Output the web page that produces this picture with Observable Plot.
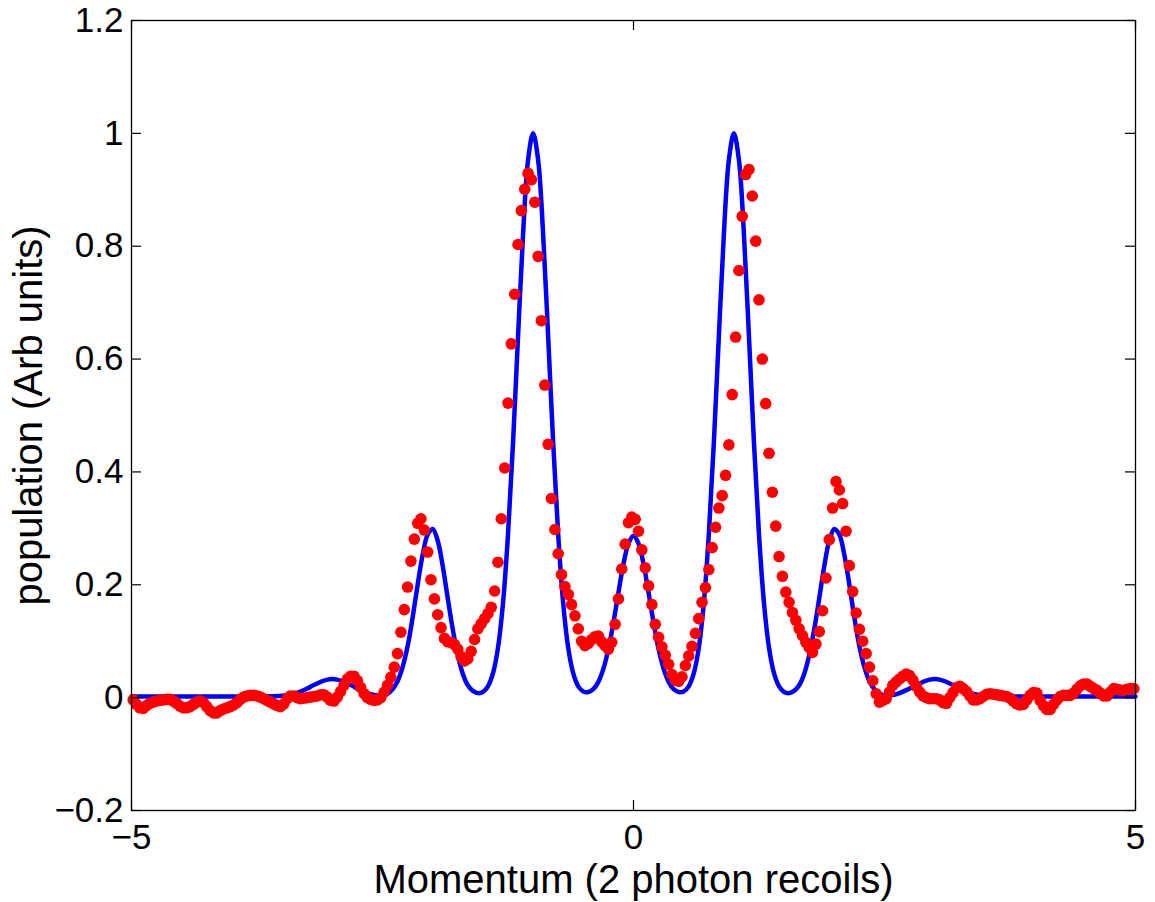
<!DOCTYPE html>
<html><head><meta charset="utf-8">
<script src="https://cdn.jsdelivr.net/npm/d3@7"></script>
<script src="https://cdn.jsdelivr.net/npm/@observablehq/plot@0.6"></script>
<style>html,body{margin:0;padding:0;background:#fff;} #chart svg{display:block;}</style>
</head><body><div id="chart"></div>
<script>
// Measured data (red dots)
const redX = [
-4.983,-4.95,-4.917,-4.883,-4.85,-4.817,-4.783,-4.75,-4.717,-4.683,-4.65,-4.617,-4.583,-4.55,-4.517,-4.483,-4.45,-4.417,-4.383,-4.35,-4.317,-4.283,-4.25,-4.217,-4.183,-4.15,-4.117,-4.083,-4.05,-4.017,
-3.983,-3.95,-3.917,-3.883,-3.85,-3.817,-3.783,-3.75,-3.717,-3.683,-3.65,-3.617,-3.583,-3.55,-3.517,-3.483,-3.45,-3.417,-3.383,-3.35,-3.317,-3.283,-3.25,-3.217,-3.183,-3.15,-3.117,-3.083,-3.05,-3.017,
-2.983,-2.95,-2.917,-2.883,-2.85,-2.817,-2.783,-2.75,-2.717,-2.683,-2.65,-2.617,-2.583,-2.55,-2.517,-2.483,-2.45,-2.417,-2.383,-2.35,-2.317,-2.283,-2.25,-2.217,-2.183,-2.15,-2.117,-2.083,-2.05,-2.017,
-1.983,-1.95,-1.917,-1.883,-1.85,-1.817,-1.783,-1.75,-1.717,-1.683,-1.65,-1.617,-1.583,-1.55,-1.517,-1.483,-1.45,-1.417,-1.383,-1.35,-1.317,-1.283,-1.25,-1.217,-1.183,-1.15,-1.117,-1.083,-1.05,-1.017,
-0.983,-0.95,-0.917,-0.883,-0.85,-0.817,-0.783,-0.75,-0.717,-0.683,-0.65,-0.617,-0.583,-0.55,-0.517,-0.483,-0.45,-0.417,-0.383,-0.35,-0.317,-0.283,-0.25,-0.217,-0.183,-0.15,-0.117,-0.083,-0.05,-0.017,
0.017,0.05,0.083,0.117,0.15,0.183,0.217,0.25,0.283,0.317,0.35,0.383,0.417,0.45,0.483,0.517,0.55,0.583,0.617,0.65,0.683,0.717,0.75,0.783,0.817,0.85,0.883,0.917,0.95,0.983,
1.017,1.05,1.083,1.117,1.15,1.183,1.217,1.25,1.283,1.317,1.35,1.383,1.417,1.45,1.483,1.517,1.55,1.583,1.617,1.65,1.683,1.717,1.75,1.783,1.817,1.85,1.883,1.917,1.95,1.983,
2.017,2.05,2.083,2.117,2.15,2.183,2.217,2.25,2.283,2.317,2.35,2.383,2.417,2.45,2.483,2.517,2.55,2.583,2.617,2.65,2.683,2.717,2.75,2.783,2.817,2.85,2.883,2.917,2.95,2.983,
3.017,3.05,3.083,3.117,3.15,3.183,3.217,3.25,3.283,3.317,3.35,3.383,3.417,3.45,3.483,3.517,3.55,3.583,3.617,3.65,3.683,3.717,3.75,3.783,3.817,3.85,3.883,3.917,3.95,3.983,
4.017,4.05,4.083,4.117,4.15,4.183,4.217,4.25,4.283,4.317,4.35,4.383,4.417,4.45,4.483,4.517,4.55,4.583,4.617,4.65,4.683,4.717,4.75,4.783,4.817,4.85,4.883,4.917,4.95,4.983
];
const redY = [
-0.004,-0.012,-0.018,-0.019,-0.014,-0.010,-0.008,-0.006,-0.005,-0.004,
-0.003,-0.003,-0.006,-0.010,-0.015,-0.018,-0.018,-0.016,-0.012,-0.008,
-0.006,-0.009,-0.016,-0.023,-0.027,-0.027,-0.023,-0.020,-0.018,-0.016,
-0.013,-0.009,-0.003,0.001,0.003,0.004,0.004,0.003,0.001,-0.002,
-0.005,-0.008,-0.011,-0.014,-0.016,-0.011,-0.002,0.003,0.003,0.000,
-0.002,-0.001,0.000,0.001,0.002,0.003,0.005,0.005,0.001,-0.005,
-0.006,0.001,0.011,0.022,0.033,0.038,0.038,0.030,0.018,0.007,
0.000,-0.003,-0.005,-0.004,0.000,0.010,0.022,0.036,0.054,0.078,
0.116,0.156,0.196,0.242,0.281,0.309,0.317,0.297,0.258,0.209,
0.175,0.147,0.124,0.105,0.099,0.098,0.094,0.086,0.073,0.065,
0.069,0.082,0.103,0.122,0.131,0.140,0.149,0.160,0.189,0.240,
0.317,0.407,0.522,0.627,0.715,0.803,0.863,0.901,0.929,0.918,
0.878,0.782,0.668,0.554,0.449,0.353,0.298,0.255,0.218,0.197,
0.183,0.165,0.145,0.122,0.100,0.092,0.096,0.103,0.108,0.109,
0.099,0.092,0.086,0.098,0.130,0.175,0.228,0.272,0.310,0.320,
0.316,0.295,0.262,0.230,0.198,0.165,0.130,0.107,0.090,0.075,
0.059,0.041,0.031,0.029,0.037,0.057,0.074,0.091,0.114,0.140,
0.169,0.195,0.227,0.266,0.302,0.336,0.358,0.394,0.448,0.537,
0.639,0.757,0.853,0.927,0.936,0.889,0.809,0.705,0.600,0.521,
0.433,0.364,0.304,0.250,0.215,0.187,0.169,0.151,0.137,0.122,
0.110,0.098,0.089,0.080,0.095,0.117,0.154,0.212,0.280,0.336,
0.383,0.368,0.344,0.295,0.234,0.188,0.150,0.121,0.100,0.078,
0.054,0.030,0.007,-0.008,-0.005,-0.002,0.010,0.022,0.028,0.033,
0.038,0.042,0.039,0.031,0.020,0.010,0.003,0.000,-0.002,-0.002,
-0.002,-0.004,-0.009,-0.010,0.000,0.009,0.018,0.020,0.016,0.011,
0.003,-0.004,-0.004,-0.002,0.002,0.006,0.007,0.006,0.005,0.004,
0.003,0.002,-0.001,-0.006,-0.011,-0.013,-0.012,-0.004,0.004,0.009,
0.008,-0.005,-0.014,-0.021,-0.021,-0.012,-0.004,0.002,0.004,0.004,
0.004,0.008,0.015,0.021,0.024,0.024,0.020,0.016,0.013,0.008,
0.003,0.003,0.010,0.016,0.015,0.013,0.013,0.015,0.016,0.016
];

// Theory curve (blue line)
const blueX = [
-5,-4.75,-4.5,-4.25,-4,-3.8,
-3.6,-3.55,-3.5,-3.45,-3.4,-3.35,-3.3,-3.25,-3.2,-3.15,-3.1,-3.05,
-3,-2.95,-2.9,-2.85,-2.8,-2.75,-2.7,-2.65,-2.6,-2.55,-2.5,-2.45,-2.4,-2.35,-2.3,-2.25,-2.2,-2.15,-2.1,-2.05,
-2,-1.95,-1.9,-1.85,-1.8,-1.75,-1.7,-1.65,-1.6,-1.55,-1.5,-1.45,-1.4,-1.35,-1.3,-1.25,-1.2,-1.15,-1.1,-1.05,
-1,-0.95,-0.9,-0.85,-0.8,-0.75,-0.7,-0.65,-0.6,-0.55,-0.5,-0.45,-0.4,-0.35,-0.3,-0.25,-0.2,-0.15,-0.1,-0.05,
0,0.05,0.1,0.15,0.2,0.25,0.3,0.35,0.4,0.45,0.5,0.55,0.6,0.65,0.7,0.75,0.8,0.85,0.9,0.95,
1,1.05,1.1,1.15,1.2,1.25,1.3,1.35,1.4,1.45,1.5,1.55,1.6,1.65,1.7,1.75,1.8,1.85,1.9,1.95,
2,2.05,2.1,2.15,2.2,2.25,2.3,2.35,2.4,2.45,2.5,2.55,2.6,2.65,2.7,2.75,2.8,2.85,2.9,2.95,
3,3.05,3.1,3.15,3.2,3.25,3.3,3.35,3.4,3.45,3.5,3.55,3.6,
3.8,4,4.25,4.5,4.75,5
];
const blueY = [
0.002,0.002,0.002,0.002,0.002,0.002,
0.0023,0.0027,0.0034,0.0045,0.006,0.009,0.012,0.016,0.021,0.025,0.029,0.032,
0.033,0.032,0.029,0.025,0.021,0.016,0.012,0.008,0.005,0.004,0.004,0.007,0.015,0.029,0.054,0.091,0.142,0.200,0.253,0.289,
0.299,0.278,0.233,0.176,0.121,0.075,0.042,0.022,0.012,0.008,0.010,0.020,0.043,0.088,0.167,0.289,0.451,0.640,0.821,0.953,
1.000,0.953,0.821,0.640,0.451,0.289,0.167,0.088,0.043,0.020,0.011,0.010,0.015,0.028,0.051,0.086,0.133,0.186,0.237,0.273,
0.287,0.273,0.237,0.186,0.133,0.086,0.051,0.028,0.015,0.010,0.011,0.020,0.043,0.088,0.167,0.289,0.451,0.640,0.821,0.953,
1.000,0.953,0.821,0.640,0.451,0.289,0.167,0.088,0.043,0.020,0.010,0.008,0.012,0.022,0.042,0.075,0.121,0.176,0.233,0.278,
0.299,0.289,0.253,0.200,0.142,0.091,0.054,0.029,0.015,0.007,0.004,0.004,0.005,0.008,0.012,0.016,0.021,0.025,0.029,0.032,
0.033,0.032,0.029,0.025,0.021,0.016,0.012,0.009,0.006,0.0045,0.0034,0.0027,0.0023,
0.002,0.002,0.002,0.002,0.002,0.002
];

const xTicks = [-5, 0, 5];
const xTickLabels = ["\u22125", "0", "5"];
const yTicks = [-0.2, 0, 0.2, 0.4, 0.6, 0.8, 1, 1.2];
const yTickLabels = ["\u22120.2", "0", "0.2", "0.4", "0.6", "0.8", "1", "1.2"];
const xLabel = "Momentum (2 photon recoils)";
const yLabel = "population (Arb units)";

const red = redX.map((x, i) => ({x, y: redY[i]}));
const blue = blueX.map((x, i) => ({x, y: blueY[i]}));
const font = "'Liberation Sans', Arial, Helvetica, sans-serif";

const W = 1155, H = 902, mL = 131, mR = 20, mT = 20, mB = 92;
const xDom = [-5, 5], yDom = [-0.2, 1.2];
const tickPx = 10;
const dxTick = tickPx * (xDom[1] - xDom[0]) / (W - mL - mR);
const dyTick = tickPx * (yDom[1] - yDom[0]) / (H - mT - mB);

const chart = Plot.plot({
  width: W, height: H,
  marginLeft: mL, marginRight: mR, marginTop: mT, marginBottom: mB,
  style: {fontFamily: font, background: "#fff", color: "#000"},
  x: {domain: xDom},
  y: {domain: yDom},
  marks: [
    Plot.line(blue, {x: "x", y: "y", stroke: "#0000ff", strokeWidth: 4.5, curve: "catmull-rom"}),
    Plot.dot(red, {x: "x", y: "y", r: 5.8, fill: "#ff0000"}),
    Plot.ruleY(yTicks, {y: d => d, x1: xDom[0], x2: xDom[0] + dxTick, stroke: "#000", strokeWidth: 1.2}),
    Plot.ruleY(yTicks, {y: d => d, x1: xDom[1] - dxTick, x2: xDom[1], stroke: "#000", strokeWidth: 1.2}),
    Plot.ruleX(xTicks, {x: d => d, y1: yDom[0], y2: yDom[0] + dyTick, stroke: "#000", strokeWidth: 1.2}),
    Plot.ruleX(xTicks, {x: d => d, y1: yDom[1] - dyTick, y2: yDom[1], stroke: "#000", strokeWidth: 1.2}),
    Plot.frame({stroke: "#000", strokeWidth: 1.3}),
    Plot.axisX(xTicks, {anchor: "bottom", tickSize: 0, tickPadding: 14, fontSize: 35, label: null,
      tickFormat: d => xTickLabels[xTicks.indexOf(d)]}),
    Plot.axisY(yTicks, {anchor: "left", tickSize: 0, tickPadding: 8, fontSize: 35, label: null,
      tickFormat: d => yTickLabels[yTicks.indexOf(d)]}),
    Plot.text([xLabel], {frameAnchor: "bottom", dy: 70, text: d => d, fontSize: 40, textAnchor: "middle", lineAnchor: "middle", fill: "#000"}),
    Plot.text([yLabel], {frameAnchor: "left", dx: -102, rotate: -90, text: d => d, fontSize: 40, textAnchor: "middle", lineAnchor: "middle", fill: "#000"})
  ]
});
document.getElementById("chart").appendChild(chart);
</script>
</body></html>
